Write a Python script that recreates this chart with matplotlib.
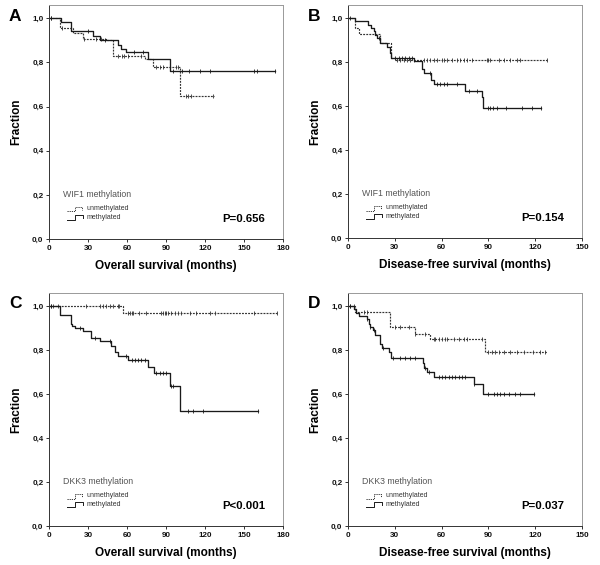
import numpy as np
import matplotlib
matplotlib.use("Agg")
import matplotlib.pyplot as plt

plt.rcParams['font.family'] = ['Liberation Sans', 'DejaVu Sans']

# ---------------- data ----------------
# Panel A: WIF1, overall survival
A_meth_t = [0, 9.5, 17, 34, 39, 53, 55, 59.5, 76, 93]
A_meth_s = [1.0, 0.985, 0.944, 0.92, 0.90, 0.88, 0.86, 0.845, 0.815, 0.76]
A_meth_end = 174
A_meth_cens = [1.8, 30, 43, 65, 72, 95, 102, 108, 116, 124, 158, 160, 174]
A_unm_t = [0, 8.2, 18.5, 26, 44, 49, 74, 80, 100.5]
A_unm_s = [1.0, 0.955, 0.932, 0.905, 0.90, 0.827, 0.815, 0.779, 0.65]
A_unm_end = 127
A_unm_cens = [1.8, 10, 27, 36, 40, 53, 56, 58, 61, 71, 82, 85, 88, 98, 99, 105, 107, 109, 126]

# Panel B: WIF1, disease-free survival
B_meth_t = [0, 4.5, 13, 14.7, 16.5, 17.5, 18.6, 20.7, 25, 26.7, 27.8, 42, 47.4, 48.5, 53, 55, 75, 86, 86.8]
B_meth_s = [1.0, 0.988, 0.97, 0.955, 0.94, 0.925, 0.91, 0.885, 0.87, 0.84, 0.82, 0.805, 0.77, 0.75, 0.72, 0.70, 0.67, 0.64, 0.59]
B_meth_end = 124
B_meth_cens = [1.5, 19.7, 30.3, 32.5, 34.5, 36.7, 39, 41, 52.8, 57, 59, 61.3, 63.5, 69.6, 77.6, 83,
               90, 91, 93, 95.5, 101, 111.5, 118, 124]
B_unm_t = [0, 4.7, 6.8, 20.7, 27.6, 30]
B_unm_s = [1.0, 0.955, 0.93, 0.885, 0.82, 0.81]
B_unm_end = 127.6
B_unm_cens = [31.5, 33.5, 35.7, 37.8, 40, 42, 48.5, 50.6, 52.8, 55, 57, 60.3, 61.3, 63.5, 66.8, 70, 72,
              74.2, 76.3, 79.5, 89, 90, 91, 96.6, 99.8, 104, 108.3, 110.4, 127.6]

# Panel C: DKK3, overall survival
C_meth_t = [0, 8.7, 17, 18, 19.7, 26, 32.6, 39, 48, 50.5, 53, 60.8, 76, 80.5, 93, 101]
C_meth_s = [1.0, 0.96, 0.92, 0.91, 0.90, 0.885, 0.855, 0.84, 0.82, 0.79, 0.775, 0.755, 0.725, 0.695, 0.635, 0.525]
C_meth_end = 161
C_meth_cens = [1.8, 23.6, 35, 46.7, 59.5, 63.5, 66, 68.5, 71, 73.6, 82.6, 85, 87.7, 90.3, 94.2, 95.5, 107, 111, 118.5, 161]
C_unm_t = [0, 57]
C_unm_s = [1.0, 0.97]
C_unm_end = 175
C_unm_cens = [1.8, 3, 7, 28.7, 39, 41.5, 44, 46.7, 49, 53, 54, 60.8, 62, 63.5, 64.6, 69.6, 74.7, 86.5,
              87.7, 89, 90.3, 91.5, 94.2, 96.6, 99.2, 101.8, 108.3, 113.3, 123.6, 127.4, 158, 175]

# Panel D: DKK3, disease-free survival
D_meth_t = [0, 3.6, 5.3, 6.8, 12, 13.2, 14.3, 16, 17.5, 20.3, 21.8, 26.5, 27.6, 48, 49, 50.6, 55, 80.5, 86.5]
D_meth_s = [1.0, 0.985, 0.97, 0.955, 0.94, 0.92, 0.905, 0.89, 0.87, 0.83, 0.81, 0.79, 0.765, 0.74, 0.72, 0.70, 0.68, 0.645, 0.60]
D_meth_end = 119
D_meth_cens = [1.5, 12, 14.3, 16.8, 22.4, 29, 33.5, 36.7, 39.9, 43, 49.6, 51.7, 58.1, 60.3, 62.4, 64.5, 66.7,
               68.8, 71, 73.1, 75.2, 80.5, 90, 93.4, 95.5, 97.6, 99.8, 103, 107.3, 110.4, 119]
D_unm_t = [0, 4.7, 27, 43, 52.8, 87.6]
D_unm_s = [1.0, 0.975, 0.905, 0.875, 0.85, 0.79]
D_unm_end = 127.6
D_unm_cens = [1.5, 3.6, 10, 12.2, 30.3, 33.5, 38.9, 43, 49.6, 55, 56, 58.1, 60.3, 62.4, 63.5, 67.7, 71, 74.2,
              76.3, 85.9, 90, 92.3, 94.4, 96.6, 99.8, 104, 108.3, 112.6, 118.8, 123.3, 126.5]

panels = [
    dict(label='A', gene='WIF1', xlabel='Overall survival (months)', xmax=180, p='P=0.656',
         meth=(A_meth_t, A_meth_s, A_meth_end, A_meth_cens), unm=(A_unm_t, A_unm_s, A_unm_end, A_unm_cens)),
    dict(label='B', gene='WIF1', xlabel='Disease-free survival (months)', xmax=150, p='P=0.154',
         meth=(B_meth_t, B_meth_s, B_meth_end, B_meth_cens), unm=(B_unm_t, B_unm_s, B_unm_end, B_unm_cens)),
    dict(label='C', gene='DKK3', xlabel='Overall survival (months)', xmax=180, p='P<0.001',
         meth=(C_meth_t, C_meth_s, C_meth_end, C_meth_cens), unm=(C_unm_t, C_unm_s, C_unm_end, C_unm_cens)),
    dict(label='D', gene='DKK3', xlabel='Disease-free survival (months)', xmax=150, p='P=0.037',
         meth=(D_meth_t, D_meth_s, D_meth_end, D_meth_cens), unm=(D_unm_t, D_unm_s, D_unm_end, D_unm_cens)),
]

fig = plt.figure(figsize=(6.0, 5.65), dpi=100)
W, H = 600.0, 565.0
boxes = [(49, 5, 283, 239), (348, 5, 582, 238), (49, 293, 283, 526), (348, 293, 582, 526)]

SOLID_C = '#1a1a1a'
DASH_C = '#333333'


def draw_curve(ax, t, s, end, cens, color, ls, lw):
    tt = list(t) + [end]
    ss = list(s) + [s[-1]]
    ax.step(tt, ss, where='post', color=color, linestyle=ls, linewidth=lw)
    cens = np.asarray(cens, dtype=float)
    idx = np.searchsorted(np.asarray(t), cens, side='right') - 1
    cy = np.asarray(s)[idx]
    ax.plot(cens, cy, linestyle='none', marker='|', markersize=3.2, markeredgewidth=0.6, color=color)


for pnl, (x0, y0, x1, y1) in zip(panels, boxes):
    ax = fig.add_axes([x0 / W, 1 - y1 / H, (x1 - x0) / W, (y1 - y0) / H])
    draw_curve(ax, *pnl['unm'], color=DASH_C, ls=(0, (1.6, 1.0)), lw=0.85)
    draw_curve(ax, *pnl['meth'], color=SOLID_C, ls='-', lw=0.95)
    ax.set_xlim(0, pnl['xmax'])
    ax.set_ylim(0, 1.06)
    ax.set_xticks(np.arange(0, pnl['xmax'] + 1, 30))
    ax.set_yticks(np.arange(0, 1.01, 0.2))
    ax.set_yticklabels([f'{v:.1f}'.replace('.', ',') for v in np.arange(0, 1.01, 0.2)])
    ax.tick_params(direction='out', length=2.5, width=0.6, labelsize=5.8, pad=1.5, colors='#111111')
    for lab in ax.get_xticklabels() + ax.get_yticklabels():
        lab.set_fontweight('bold')
    for sp in ['left', 'bottom']:
        ax.spines[sp].set_color('#333333')
        ax.spines[sp].set_linewidth(0.7)
    for sp in ['top', 'right']:
        ax.spines[sp].set_color('#999999')
        ax.spines[sp].set_linewidth(0.7)
    ax.set_xlabel(pnl['xlabel'], fontsize=8.5, fontweight='bold', labelpad=6)
    ax.set_ylabel('Fraction', fontsize=8.5, fontweight='bold', labelpad=7)

    # panel letter
    fig.text((x0 - 40) / W, 1 - 21 / H if y0 < 100 else 1 - 308 / H, pnl['label'],
             fontsize=12.5, fontweight='bold', ha='left', va='baseline')

    # legend block
    tr = ax.transAxes
    ax.text(0.06, 0.19, f"{pnl['gene']} methylation", transform=tr,
            fontsize=6.3, color='#555555', va='center', ha='left')
    ax.plot([0.075, 0.112, 0.112, 0.14, 0.14], [0.118, 0.118, 0.136, 0.136, 0.126], transform=tr,
            color=DASH_C, linestyle=(0, (1.2, 1.0)), linewidth=0.7)
    ax.plot([0.075, 0.112, 0.112, 0.145, 0.145], [0.082, 0.082, 0.102, 0.102, 0.09], transform=tr,
            color=SOLID_C, linestyle='-', linewidth=0.7)
    ax.text(0.162, 0.13, 'unmethylated', transform=tr, fontsize=5, color='#333333', va='center', ha='left')
    ax.text(0.162, 0.091, 'methylated', transform=tr, fontsize=5, color='#333333', va='center', ha='left')

    ax.text(0.925, 0.085, pnl['p'], transform=tr, fontsize=8.2, fontweight='bold',
            ha='right', va='center')

fig.savefig('out.png', dpi=100)
